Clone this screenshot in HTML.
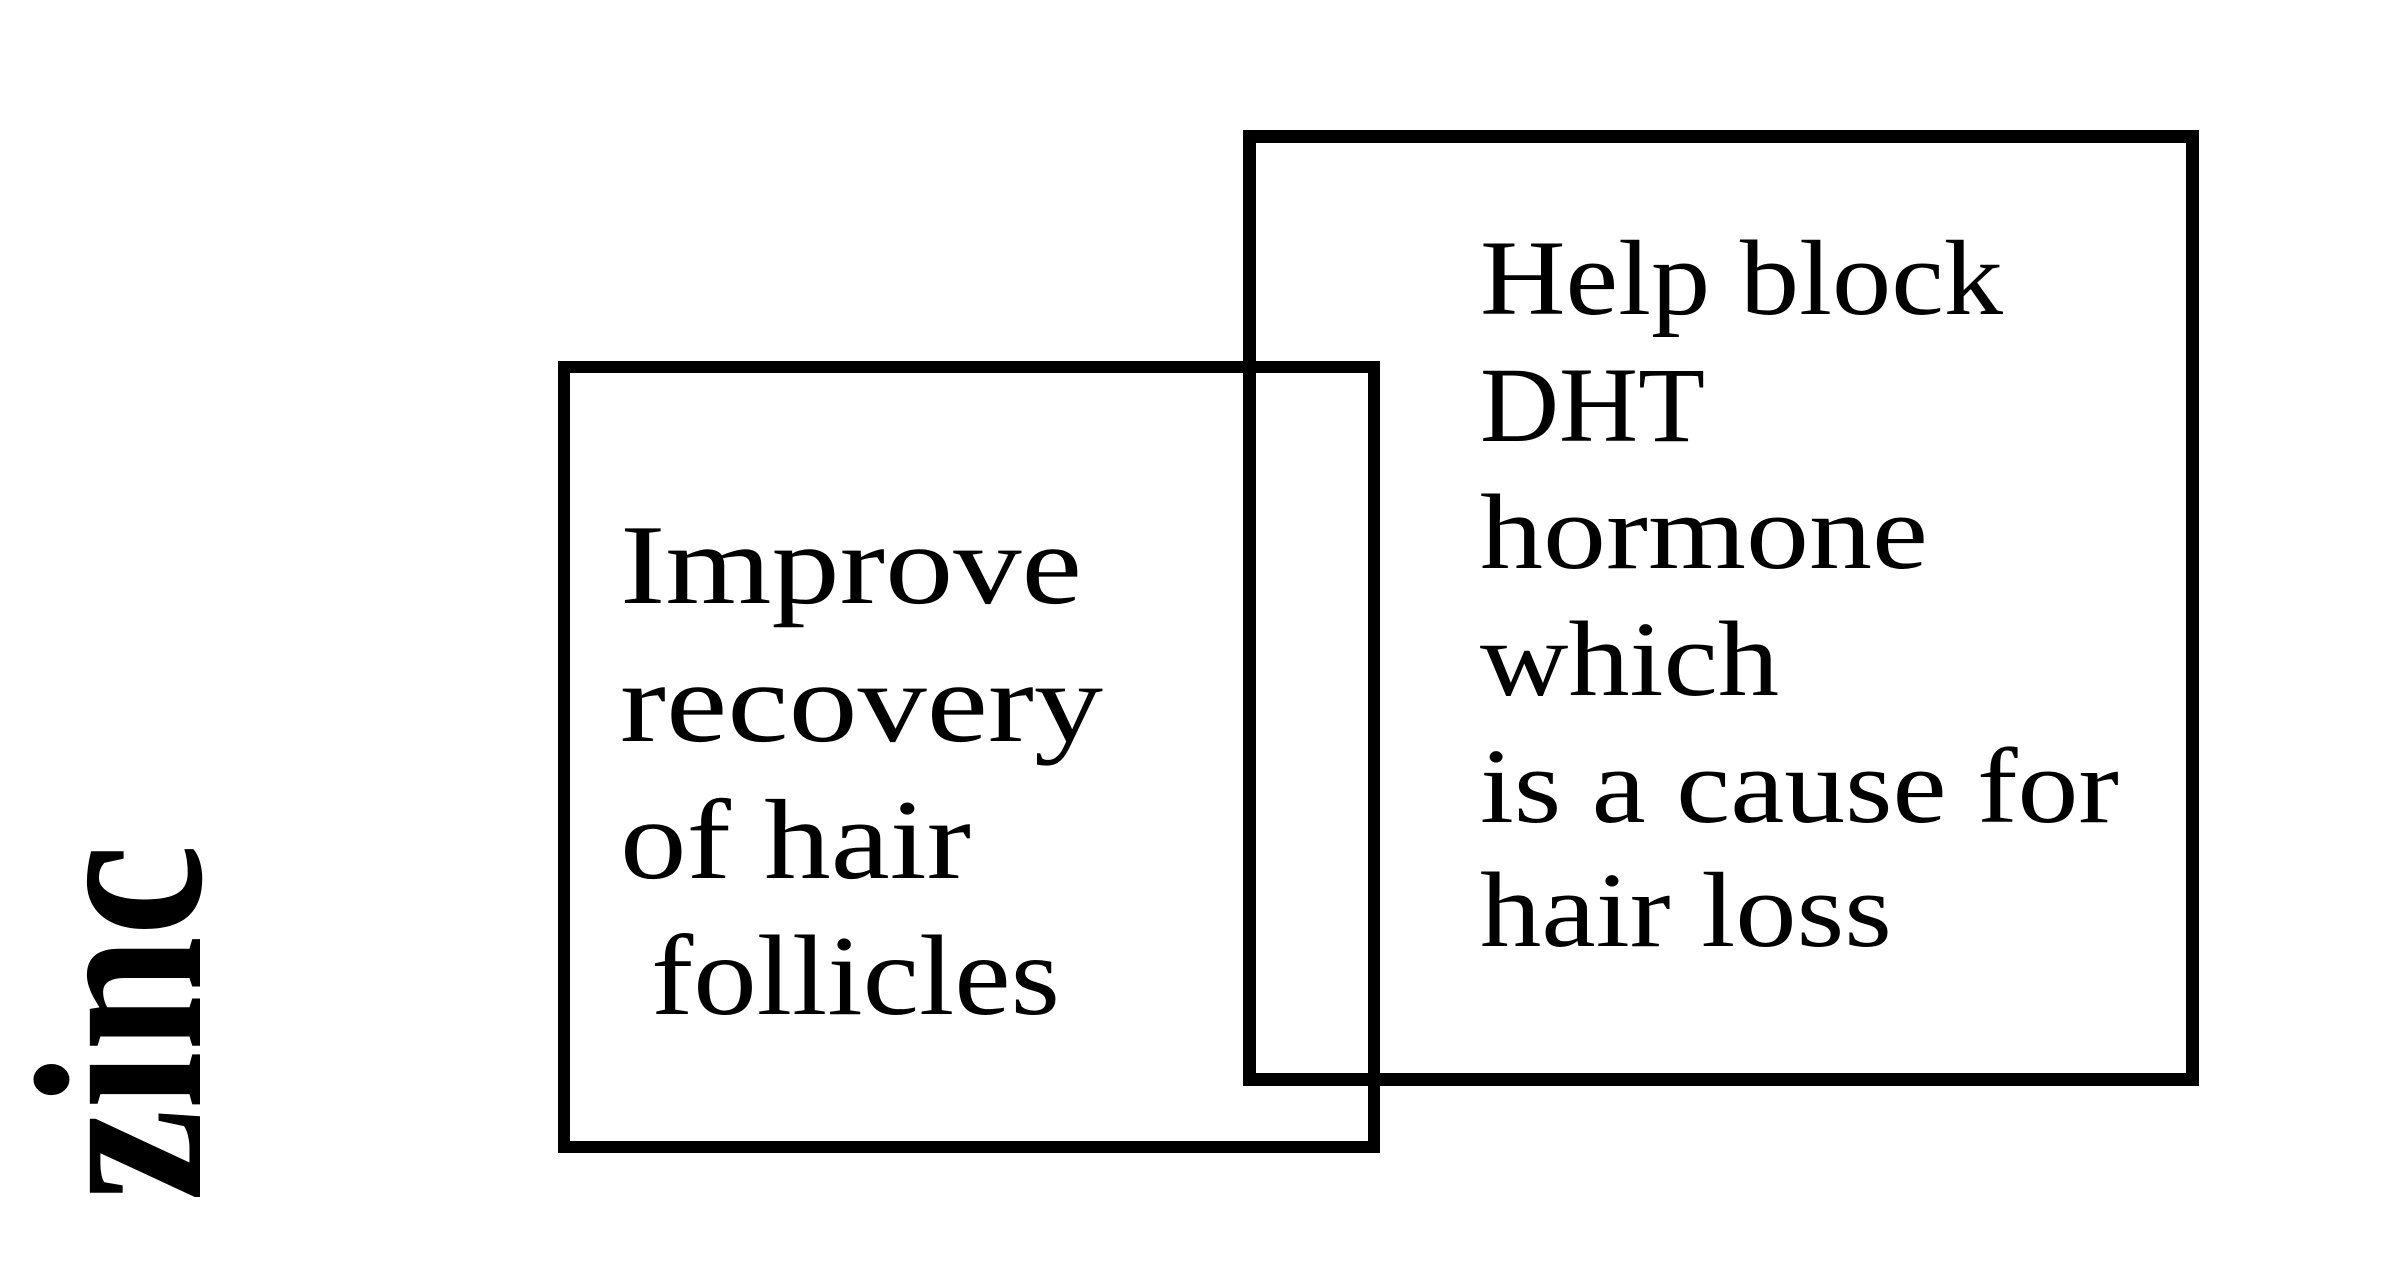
<!DOCTYPE html>
<html><head><meta charset="utf-8"><style>
html,body{margin:0;padding:0;background:#fff;}
svg{display:block;}
text{font-family:"Liberation Serif",serif;fill:#000;}
</style></head><body>
<svg width="2389" height="1277" viewBox="0 0 2389 1277" xmlns="http://www.w3.org/2000/svg">
<rect x="0" y="0" width="2389" height="1277" fill="#fff"/>
<rect x="1249.5" y="136.5" width="943" height="943" fill="none" stroke="#000" stroke-width="13"/>
<rect x="564" y="367" width="810" height="780" fill="none" stroke="#000" stroke-width="12"/>
<g font-size="107">
<text x="1480" y="314" textLength="523" lengthAdjust="spacingAndGlyphs">Help block</text>
<text x="1480" y="441" textLength="225" lengthAdjust="spacingAndGlyphs">DHT</text>
<text x="1480" y="568" textLength="448" lengthAdjust="spacingAndGlyphs">hormone</text>
<text x="1480" y="695" textLength="299" lengthAdjust="spacingAndGlyphs">which</text>
<text x="1480" y="822" textLength="639" lengthAdjust="spacingAndGlyphs">is a cause for</text>
<text x="1480" y="946" textLength="412" lengthAdjust="spacingAndGlyphs">hair loss</text>
</g>
<g font-size="114">
<text x="620" y="603" textLength="462" lengthAdjust="spacingAndGlyphs">Improve</text>
<text x="620" y="741" textLength="483" lengthAdjust="spacingAndGlyphs">recovery</text>
<text x="620" y="878" textLength="351" lengthAdjust="spacingAndGlyphs">of hair</text>
<text x="651" y="1014" textLength="409" lengthAdjust="spacingAndGlyphs">follicles</text>
</g>
<text transform="translate(200,1201) rotate(-90)" font-size="240" font-weight="bold" textLength="357" lengthAdjust="spacingAndGlyphs">zinc</text>
</svg>
</body></html>
